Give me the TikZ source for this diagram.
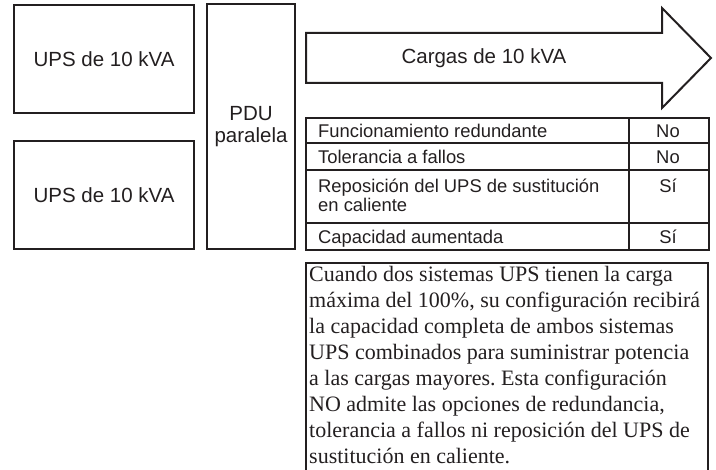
\documentclass[tikz,border=0pt]{standalone}
\usepackage{fontspec}
\setmainfont{Liberation Sans}
\newfontfamily\serifpar{Liberation Serif}
\definecolor{ink}{HTML}{231F20}
\frenchspacing
\tikzset{
  bigbox/.style={draw=ink, line width=2pt, inner sep=0pt, text=ink,
    font=\fontsize{20.5}{23}\selectfont, align=center},
  thinline/.style={draw=ink, line width=1.3pt},
  celltext/.style={anchor=base west, inner sep=0pt, text=ink, font=\fontsize{18.4}{20}\selectfont},
  valtext/.style={anchor=base, inner sep=0pt, text=ink, font=\fontsize{18.4}{20}\selectfont},
}
\begin{document}
\begin{tikzpicture}[x=1pt, y=-1pt]
\useasboundingbox (0,0) rectangle (716,470);

% UPS boxes and PDU
\node[bigbox, minimum width=180pt, minimum height=108pt] (ups1) at (104,59) {UPS de 10 kVA};
\node[bigbox, minimum width=180pt, minimum height=108pt] (ups2) at (104,195) {UPS de 10 kVA};
\node[bigbox, minimum width=88pt, minimum height=245pt] (pdu) at (251,126.5) {PDU\\[-1pt]paralela};

% Arrow
\coordinate (a1) at (306,33);
\coordinate (a2) at (662,33);
\coordinate (a3) at (662,8);
\coordinate (a4) at (711,58);
\coordinate (a5) at (662,108);
\coordinate (a6) at (662,83);
\coordinate (a7) at (306,83);
\draw[draw=ink, line width=2pt, line join=miter] (a1) -- (a2) -- (a3) -- (a4) -- (a5) -- (a6) -- (a7) -- cycle;
\node[text=ink, inner sep=0pt, font=\fontsize{20.5}{23}\selectfont] (cargas) at (484,58) {Cargas de 10 kVA};

% Table
\coordinate (t0) at (306,118);
\coordinate (t1) at (709,250);
\draw[thinline] (t0) rectangle (t1);
\draw[thinline] (306,143) -- (709,143);
\draw[thinline] (306,170) -- (709,170);
\draw[thinline] (306,223) -- (709,223);
\draw[thinline] (629,118) -- (629,250);

\node[celltext] (r1) at (318,137.5) {Funcionamiento redundante};
\node[celltext] (r2) at (318,163.5) {Tolerancia a fallos};
\node[celltext] (r3a) at (318,192.5) {Reposición del UPS de sustitución};
\node[celltext] (r3b) at (318,212) {en caliente};
\node[celltext] (r4) at (318,243.5) {Capacidad aumentada};
\node[valtext] (v1) at (668,137.5) {No};
\node[valtext] (v2) at (668,163.5) {No};
\node[valtext] (v3) at (668,192.5) {Sí};
\node[valtext] (v4) at (668,243.5) {Sí};

% Text box (open at the bottom)
\coordinate (b1) at (306,475);
\coordinate (b2) at (306,263);
\coordinate (b3) at (708,263);
\coordinate (b4) at (708,475);
\draw[thinline] (b1) -- (b2) -- (b3) -- (b4);
\node[anchor=north west, inner sep=0pt, text=ink, align=left,
  font=\serifpar\fontsize{22}{26}\selectfont] (para) at (309,266.5)
{Cuando dos sistemas UPS tienen la carga\\
máxima del 100\%, su configuración recibirá\\
la capacidad completa de ambos sistemas\\
UPS combinados para suministrar potencia\\
a las cargas mayores. Esta configuración\\
NO admite las opciones de redundancia,\\
tolerancia a fallos ni reposición del UPS de\\
sustitución en caliente.};
\end{tikzpicture}
\end{document}
